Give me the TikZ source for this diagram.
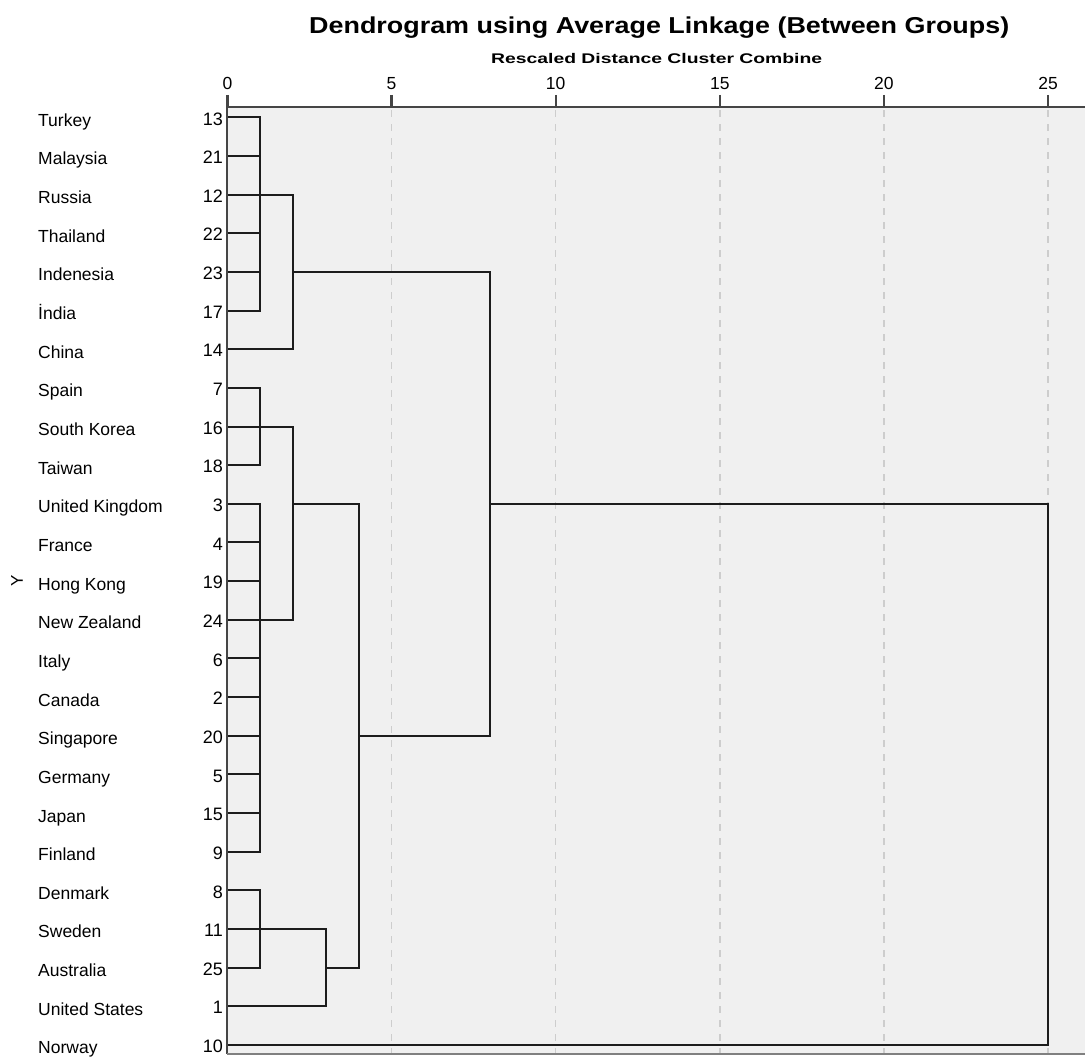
\documentclass[tikz,border=0pt]{standalone}
\usepackage{fontspec}
\setmainfont{Liberation Sans}
\usepackage{graphicx}
\definecolor{plotbg}{HTML}{F0F0F0}
\definecolor{gridgray}{HTML}{CDCDCD}
\definecolor{axisgray}{HTML}{454545}
\definecolor{linkblack}{HTML}{1C1C1C}

\begin{document}
\begin{tikzpicture}[x=1pt,y=-1pt,
    country/.style={anchor=base west,inner sep=0pt,font=\fontsize{17.5}{20}\selectfont},
    caseno/.style={anchor=base east,inner sep=0pt,font=\fontsize{18}{20}\selectfont},
    ticklabel/.style={anchor=base,inner sep=0pt,font=\fontsize{17.5}{20}\selectfont},
    axisline/.style={draw=axisgray,line width=2.4pt},
    gridline/.style={draw=gridgray,line width=1.4pt,dash pattern=on 7pt off 7pt},
    link/.style={draw=linkblack,line width=2pt,line cap=rect}]
	\useasboundingbox (0,0) rectangle (1085,1057);
	\fill[plotbg] (227,107) rectangle (1085,1054);
	\foreach \u in {5,10,...,25}
		\draw[gridline] ({227.5+32.82*\u},110) -- ++(0,943);
	\node[anchor=base west,inner sep=0pt] (title) at (309,33.3)
		{\resizebox{700pt}{\height}{\fontsize{23}{26}\selectfont\bfseries Dendrogram using Average Linkage (Between Groups)}};
	\node[anchor=base west,inner sep=0pt] (subtitle) at (491,63.3)
		{\resizebox{331pt}{\height}{\fontsize{14}{16}\selectfont\bfseries Rescaled Distance Cluster Combine}};
	\foreach \u in {0,5,...,25}{
		\draw[axisline] ({227.5+32.82*\u},95) -- ++(0,12);
		\node[ticklabel] (t\u) at ({227.5+32.82*\u},90) {\u};
	}
	\draw[axisline] (227,107) -- (1085,107);
	\draw[axisline] (227,107) -- (227,1054);
	\draw[draw=gray,line width=2pt] (227,1053.5) -- (1085,1053.5);
	\node[rotate=90,inner sep=0pt,font=\fontsize{17}{20}\selectfont] (ylab) at (17,581) {Y};
	\foreach \nm/\id [count=\i from 0] in {Turkey/13,Malaysia/21,Russia/12,Thailand/22,Indenesia/23,İndia/17,China/14,Spain/7,South Korea/16,Taiwan/18,United Kingdom/3,France/4,Hong Kong/19,New Zealand/24,Italy/6,Canada/2,Singapore/20,Germany/5,Japan/15,Finland/9,Denmark/8,Sweden/11,Australia/25,United States/1,Norway/10}{
		\pgfmathsetmacro\ry{117.3+38.65*\i}
		\node[country] (c\i) at (38,\ry+9) {\nm};
		\node[caseno] (k\i) at (223,\ry+7.7) {\id};
		\coordinate (r\i) at (229,\ry);
	}
	\coordinate (u1) at (260.3,0);
	\coordinate (u2) at (293.1,0);
	\coordinate (u3) at (326,0);
	\coordinate (u4) at (358.8,0);
	\coordinate (u8) at (490.1,0);
	\coordinate (u25) at (1048,0);
	\foreach \i in {0,...,5,7,8,9,10,...,19,20,21,22}
		\draw[link] (r\i) -- (r\i -| u1);
	\draw[link] (r0 -| u1) -- (r5 -| u1);
	\draw[link] (r7 -| u1) -- (r9 -| u1);
	\draw[link] (r10 -| u1) -- (r19 -| u1);
	\draw[link] (r20 -| u1) -- (r22 -| u1);
	\draw[link] (r2 -| u1) -- (r2 -| u2);
	\draw[link] (r6) -- (r6 -| u2);
	\draw[link] (r2 -| u2) -- (r6 -| u2);
	\draw[link] (r4 -| u2) -- (r4 -| u8);
	\draw[link] (r8 -| u1) -- (r8 -| u2);
	\draw[link] (r13 -| u1) -- (r13 -| u2);
	\draw[link] (r8 -| u2) -- (r13 -| u2);
	\draw[link] (r10 -| u2) -- (r10 -| u4);
	\draw[link] (r21 -| u1) -- (r21 -| u3);
	\draw[link] (r23) -- (r23 -| u3);
	\draw[link] (r21 -| u3) -- (r23 -| u3);
	\draw[link] (r22 -| u3) -- (r22 -| u4);
	\draw[link] (r10 -| u4) -- (r22 -| u4);
	\draw[link] (r16 -| u4) -- (r16 -| u8);
	\draw[link] (r4 -| u8) -- (r16 -| u8);
	\draw[link] (r10 -| u8) -- (r10 -| u25);
	\draw[link] (r24) -- (r24 -| u25);
	\draw[link] (r10 -| u25) -- (r24 -| u25);
\end{tikzpicture}
\end{document}
